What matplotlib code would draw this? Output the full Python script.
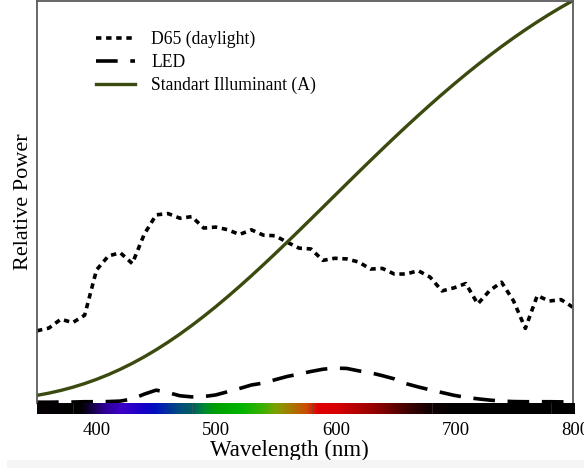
import numpy as np
import matplotlib.pyplot as plt
from matplotlib.colors import LinearSegmentedColormap
from matplotlib.patches import Rectangle

plt.rcParams['font.family'] = ['Liberation Serif', 'DejaVu Serif']

# 波长 (nm)，10 nm 步长
wl = np.arange(350, 801, 10)

# D65 日光
d65 = [44.9, 46.6, 52.1, 50.0, 54.6, 82.8, 91.5, 93.4, 86.7, 104.9,
       117.0, 117.8, 114.9, 115.9, 108.8, 109.4, 107.8, 104.8, 107.7, 104.4,
       104.0, 100.0, 96.3, 95.8, 88.7, 90.0, 89.6, 87.7, 83.3, 83.7,
       80.2, 80.2, 82.3, 78.3, 69.7, 71.6, 74.3, 61.6, 69.9, 75.1,
       63.6, 46.4, 66.8, 63.4, 64.3, 59.5]

# LED
led = [0.5, 0.5, 0.6, 0.6, 0.8, 0.8, 0.9, 1.2, 2.5, 5.5,
       8.0, 6.5, 4.5, 3.8, 4.0, 5.0, 7.0, 9.0, 11.2, 12.4,
       14.5, 16.5, 18.0, 19.6, 21.0, 21.7, 21.5, 20.0, 18.8, 17.0,
       15.0, 12.0, 10.0, 8.2, 6.5, 4.8, 3.5, 2.6, 1.8, 1.2,
       0.9, 0.8, 0.8, 0.8, 0.7, 0.6]

# 标准光源 A
illum_a = [4.75, 6.14, 7.82, 9.80, 12.09, 14.71, 17.68, 21.00, 24.67, 28.70,
           33.09, 37.81, 42.87, 48.24, 53.91, 59.86, 66.06, 72.50, 79.13, 85.95,
           92.91, 100.0, 107.18, 114.44, 121.73, 129.04, 136.35, 143.62, 150.84, 157.98,
           165.03, 171.96, 178.77, 185.43, 191.93, 198.26, 204.41, 210.37, 216.12, 221.67,
           227.00, 232.12, 237.01, 241.68, 246.10, 250.30]

xticks = [400, 500, 600, 700, 800]

fig = plt.figure(figsize=(5.84, 4.68), dpi=100)
fig.patches.append(Rectangle((0.012, 0), 0.988, 8 / 468, transform=fig.transFigure,
                             color='#f5f5f7', zorder=0))

ax = fig.add_axes([37 / 584, 1 - 403 / 468, 536 / 584, 402 / 468])
ax.plot(wl, d65, color='black', lw=2.6, dashes=(1.5, 1.3), label='D65 (daylight)')
ax.plot(wl, led, color='black', lw=2.6, dashes=(6, 3.5), label='LED')
ax.plot(wl, illum_a, color='#3b4a0f', lw=2.4, label='Standart Illuminant (A)')
ax.set_xlim(350, 800)
ax.set_ylim(0, 250)
ax.set_xticks([])
ax.set_yticks([])
for s in ax.spines.values():
    s.set_color('#5a5a5a')
    s.set_linewidth(1.3)
ax.spines['bottom'].set_visible(False)
ax.set_ylabel('Relative Power', fontsize=16, labelpad=3)
ax.legend(loc='upper left', bbox_to_anchor=(0.08, 0.965), frameon=False,
          fontsize=12.7, handlelength=2.2, handletextpad=0.95, labelspacing=0.32)

# 光谱色条
spec = LinearSegmentedColormap.from_list('spec', [
    (0.0, '#050005'), (35 / 450, '#000000'), (45 / 450, '#14003e'),
    (55 / 450, '#2c0090'), (70 / 450, '#3c00c8'), (88 / 450, '#1800c8'),
    (98 / 450, '#0010c0'), (118 / 450, '#004a80'), (130 / 450, '#006060'),
    (140 / 450, '#008a30'), (150 / 450, '#00a000'), (170 / 450, '#00b400'),
    (190 / 450, '#40b000'), (200 / 450, '#80a000'), (210 / 450, '#a08000'),
    (225 / 450, '#c85000'), (235 / 450, '#e00000'), (250 / 450, '#d80000'),
    (270 / 450, '#b00000'), (290 / 450, '#800000'), (310 / 450, '#400000'),
    (330 / 450, '#100000'), (350 / 450, '#000000'), (1.0, '#000000')])
cax = fig.add_axes([37 / 584, 1 - 414 / 468, 538 / 584, 11 / 468])
cax.imshow(np.linspace(0, 1, 900)[None, :], cmap=spec, aspect='auto',
           extent=[350, 800, 0, 1])
for seam in [380, 480, 580, 680, 780]:
    cax.axvline(seam, color='#555555', lw=0.5, alpha=0.6)
cax.set_xlim(350, 800)
cax.set_yticks([])
cax.set_xticks(xticks)
cax.tick_params(axis='x', length=0, labelsize=13.5, pad=6)
for s in cax.spines.values():
    s.set_visible(False)
cax.set_xlabel('Wavelength (nm)', fontsize=16.5, labelpad=0)
cax.xaxis.label.set_x(0.47)

fig.savefig('out.png', dpi=100)
